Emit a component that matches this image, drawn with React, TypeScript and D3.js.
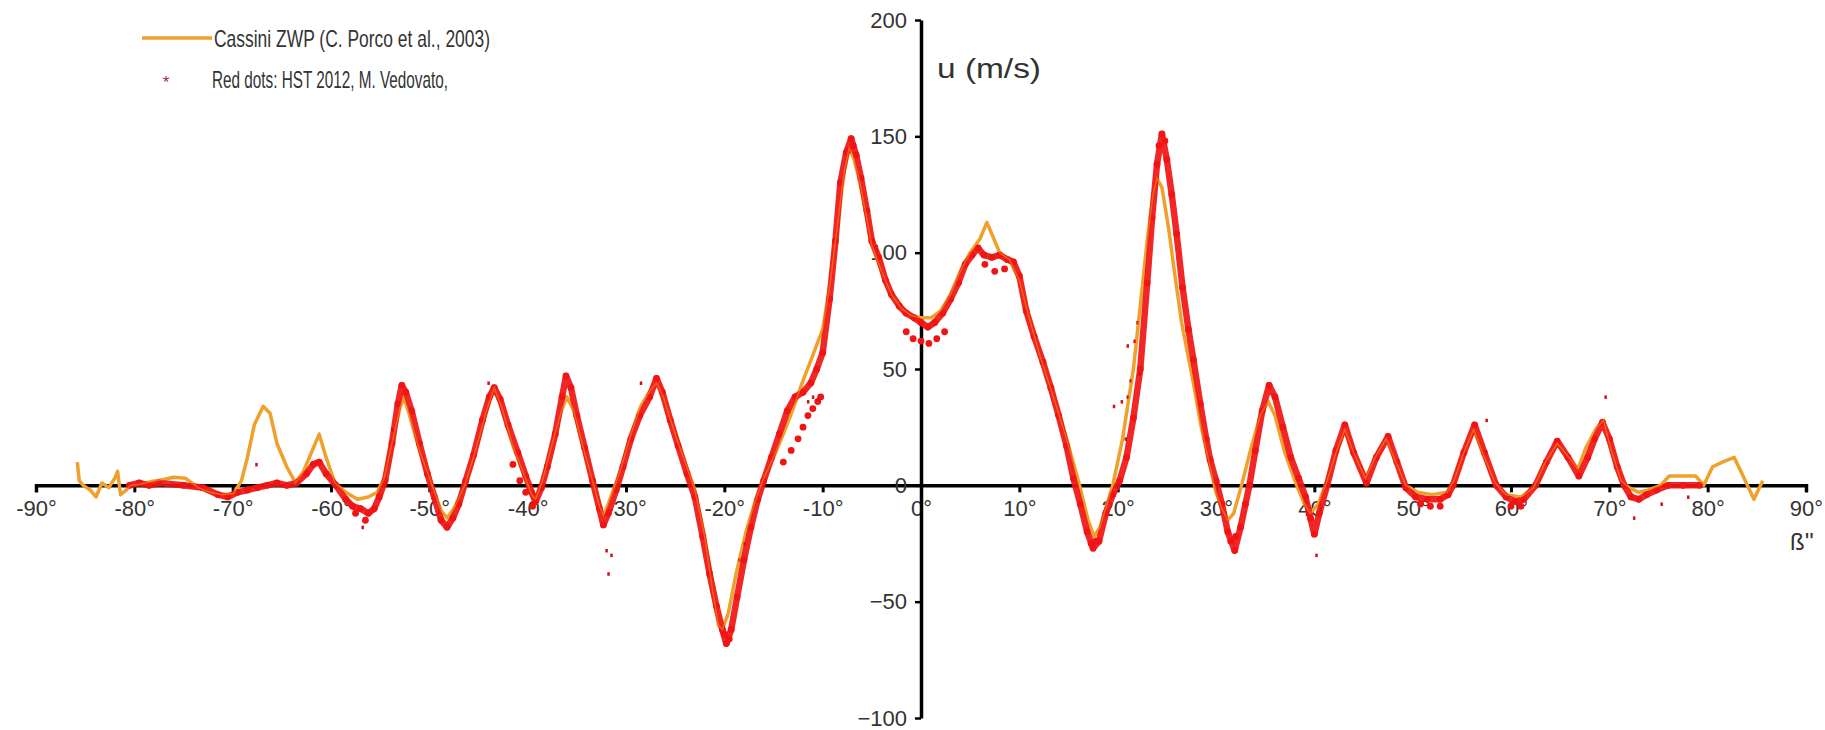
import React, { useRef, useEffect } from "react";
import * as d3 from "d3";

const W = 1825;
const H = 730;

// Cassini zonal wind profile (latitude °, u m/s)
const CASSINI_LAT = [
  -85.8, -85.6, -85.2, -84.5, -83.9, -83.3, -82.6, -82.0, -81.7, -81.4, -80.8, -80.4, -79.5, -78.4, -77.0,
  -76.0, -74.8, -73.5, -72.3, -71.1, -69.9, -69.1, -68.5, -67.8, -66.9, -66.2, -65.5, -64.5, -63.6, -62.8,
  -62.0, -61.2, -60.5, -59.6, -58.5, -57.3, -56.2, -55.3, -54.6, -53.8, -53.0, -52.6, -52.0, -51.0, -49.8,
  -48.8, -48.2, -47.5, -46.4, -45.3, -44.2, -43.4, -42.6, -41.5, -40.4, -39.6, -39.2, -38.5, -37.5, -36.5,
  -36.0, -35.3, -34.4, -33.4, -32.7, -32.3, -31.8, -30.6, -29.5, -28.5, -27.5, -26.9, -26.2, -25.0, -24.0,
  -23.0, -22.0, -21.2, -20.6, -20.2, -19.6, -18.8, -17.8, -16.8, -16.0, -15.0, -14.0, -13.0, -12.0, -11.0,
  -10.0, -9.2, -8.5, -7.8, -7.3, -6.8, -6.2, -5.0, -4.0, -3.0, -2.0, -1.0, 0, 1.0, 2.0,
  3.0, 4.0, 5.0, 6.0, 6.7, 7.2, 8.0, 9.0, 10.0, 11.0, 12.0, 13.0, 14.0, 15.0, 16.0,
  17.0, 17.6, 18.2, 19.0, 19.5, 20.5, 21.6, 22.5, 23.0, 23.6, 24.0, 24.5, 25.2, 25.7, 26.5,
  27.7, 28.5, 29.4, 30.0, 30.6, 31.2, 31.8, 32.6, 33.5, 34.5, 35.3, 36.0, 37.0, 38.2, 39.0,
  39.6, 40.4, 41.3, 42.2, 43.1, 44.0, 45.2, 46.2, 47.3, 48.3, 49.3, 50.5, 52.0, 53.5, 54.2,
  55.2, 56.2, 57.2, 58.4, 59.5, 61.0, 62.3, 63.5, 64.7, 65.7, 66.8, 67.6, 68.6, 69.4, 70.2,
  71.2, 72.0, 73.0, 74.0, 75.2, 76.1, 77.5, 78.8, 79.6, 80.5, 81.5, 82.7, 83.6, 84.7, 85.6,
];
const CASSINI_U = [
  10, 2, 0, -2, -5, 1, -1, 3, 6, -4, -2, 0, 0.5, 1.5, 2.5,
  3.5, 3, -1, -3, -4, -3.5, 2, 12, 26, 34, 31, 18, 8, 1, 6,
  14, 22, 12, 1, -3, -6, -5, -3, 3, 18, 33, 38, 30, 15, 1,
  -11, -14, -10, 0, 15, 32, 42, 33, 17, 5, -4, -6, 2, 18, 33,
  38, 32, 17, 2, -9, -13, -8, 6, 22, 34, 41, 44, 38, 22, 10,
  -2, -22, -45, -60, -62, -55, -38, -20, -6, 3, 12, 22, 33, 45, 56,
  67, 88, 112, 135, 145, 140, 130, 103, 92, 82, 76, 73, 72, 72, 75,
  82, 92, 100, 106, 113, 108, 100, 97, 88, 72, 57, 44, 31, 17, 2,
  -15, -22, -18, -7, 0, 20, 50, 85, 105, 125, 132, 128, 110, 94, 70,
  44, 25, 8, -3, -10, -15, -12, 0, 15, 30, 36, 30, 14, 0, -8,
  -12, -8, 2, 14, 24, 14, 3, 12, 20, 10, 0, -3, -4, -3, 2,
  14, 24, 13, 1, -4, -5, -1, 10, 18, 13, 7, 16, 24, 28, 15,
  2, -1, -3, -2, 0, 4, 4, 4, 0, 8, 10, 12, 4, -6, 2,
];

// HST 2012 red dots, main band
const HST_LAT = [
  -80.5, -79.5, -78.5, -77.5, -75.0, -73.0, -71.5, -70.5, -69.5, -68.5, -67.5, -66.5, -65.5, -64.5, -63.5,
  -62.5, -61.8, -61.2, -60.5, -59.5, -58.5, -57.8, -57.0, -56.2, -55.6, -55.1, -54.5, -53.8, -53.2, -52.8,
  -52.4, -51.8, -51.0, -50.2, -49.5, -48.8, -48.2, -47.6, -47.0, -46.3, -45.5, -44.6, -43.9, -43.4, -42.8,
  -42.0, -41.0, -40.2, -39.6, -39.2, -38.6, -38.0, -37.2, -36.5, -36.1, -35.6, -35.0, -34.2, -33.4, -32.7,
  -32.3, -31.8, -31.0, -30.3, -29.5, -28.6, -27.6, -26.9, -26.3, -25.5, -24.7, -23.8, -23.0, -22.2, -21.5,
  -20.8, -20.2, -19.8, -19.3, -18.7, -18.0, -17.3, -16.6, -16.0, -15.2, -14.4, -13.6, -12.8, -12.0, -11.2,
  -10.6, -10.0, -9.3, -8.7, -8.2, -7.6, -7.1, -6.6, -6.1, -5.5, -5.0, -4.3, -3.6, -3.0, -2.2,
  -1.5, -0.7, 0, 0.7, 1.4, 2.2, 3.0, 3.8, 4.5, 5.2, 5.8, 6.4, 7.2, 8.0, 8.8,
  9.4, 10.0, 10.7, 11.5, 12.4, 13.2, 14.0, 14.8, 15.5, 16.2, 16.9, 17.5, 18.1, 18.8, 19.5,
  20.2, 20.9, 21.6, 22.3, 23.0, 23.5, 24.0, 24.5, 25.0, 25.5, 26.0, 26.6, 27.2, 27.7, 28.4,
  29.0, 29.4, 30.0, 30.6, 31.2, 31.9, 32.5, 33.0, 33.4, 34.0, 34.7, 35.4, 36.0, 36.8, 37.6,
  38.4, 39.1, 39.6, 40.0, 40.5, 41.3, 42.2, 43.1, 44.0, 45.3, 46.3, 47.5, 48.4, 49.3, 50.3,
  51.5, 52.8, 53.6, 54.1, 55.2, 56.3, 57.3, 58.5, 59.5, 60.5, 61.3, 62.5, 63.6, 64.7, 65.8,
  66.9, 67.8, 68.5, 69.3, 70.0, 70.8, 71.5, 72.2, 73.0, 73.8, 74.8, 76.0, 77.5, 79.2,
];
const HST_U = [
  0, 1, 0, 1, 0, -1, -4, -5, -3, -2, -1, 0, 1, 0, 1,
  5, 9, 10, 5, 0, -6, -9, -10, -12, -10, -5, 2, 18, 35, 43,
  40, 32, 18, 5, -5, -15, -18, -14, -8, 2, 13, 28, 38, 42, 37,
  26, 14, 4, -3, -7, -1, 8, 22, 38, 47, 42, 30, 16, 2, -10,
  -17, -12, -2, 8, 20, 30, 38, 46, 40, 28, 17, 5, -5, -22, -38,
  -52, -62, -68, -62, -48, -32, -18, -6, 2, 12, 22, 32, 38, 40, 44,
  50, 57, 80, 105, 130, 143, 149, 142, 132, 118, 105, 98, 88, 82, 77,
  74, 72, 70, 68, 70, 74, 80, 87, 95, 99, 102, 99, 98, 99, 97,
  96, 90, 75, 64, 53, 42, 30, 17, 3, -8, -20, -27, -24, -12, -4,
  2, 12, 29, 50, 87, 115, 138, 151, 140, 125, 108, 85, 67, 54, 35,
  20, 11, 2, -8, -20, -28, -18, -8, 0, 15, 32, 43, 38, 25, 12,
  3, -5, -14, -21, -12, 0, 15, 26, 14, 1, 12, 21, 10, -1, -5,
  -6, -6, -4, 0, 14, 26, 14, 0, -5, -7, -6, 0, 10, 19, 12,
  4, 12, 20, 27, 20, 8, 0, -5, -6, -4, -2, 0, 0, 0,
];

// HST secondary strand / spread of the band
const HST_ALT_LAT = [
  -1.5, -0.8, 0, 0.8, 1.6, 2.4, -41.5, -40.8, -40.2, -39.5, -14.0, -13.2, -12.5, -12.0, -11.5,
  -11.0, -10.5, -10.2, 6.5, 7.5, 8.5, 50.8, 51.8, 52.8, 60.0, 61.0, -57.5, -56.5, 31.5, 32.0,
  -7.4, -6.9, 24.2, 24.8, -20.0, -19.5, 17.3, 17.8,
];
const HST_ALT_U = [
  66, 63, 62, 61, 63, 66, 9, 2, -3, -9, 10, 15, 20, 25, 30,
  33, 36, 38, 95, 92, 93, -8, -9, -9, -9, -9, -12, -15, -24, -22,
  144, 146, 146, 148, -64, -66, -25, -24,
];

// isolated red dots
const OUT_LAT = [
  -67.6, -56.8, -53.8, -31.8, -32.0, -31.5, -28.5, -18.5, -18.0, -11.5, -11.0, -10.5, 19.6, 20.4, 21.0,
  21.3, 20.8, 21.7, 21.0, 69.6, 72.5, 75.3, 78.0, -44.0, 57.5, 22.0, 22.2, 40.2,
];
const OUT_U = [
  9, -18, 24, -38, -28, -30, 44, -32, -25, 36, 38, 37, 34, 36, 60,
  45, 20, 62, 38, 38, -14, -8, -5, 44, 28, 70, 48, -30,
];

const X_TICKS = [-90, -80, -70, -60, -50, -40, -30, -20, -10, 0, 10, 20, 30, 40, 50, 60, 70, 80, 90];
const Y_TICKS = [-100, -50, 0, 50, 100, 150, 200];

const ORANGE = "#EFA12C";
const RED = "#F01414";
const FONT = "'Liberation Sans', Arial, sans-serif";

export default function App() {
  const svgRef = useRef<SVGSVGElement | null>(null);

  useEffect(() => {
    const svg = d3.select(svgRef.current);
    svg.selectAll("*").remove();

    const x = d3.scaleLinear().domain([-90, 90]).range([36, 1806]);
    const y = d3.scaleLinear().domain([-100, 200]).range([718, 20]);

    const cassini = CASSINI_LAT.map((l, i) => [l, CASSINI_U[i]] as [number, number]);
    const hst = HST_LAT.map((l, i) => [l, HST_U[i]] as [number, number]);
    const hstAlt = HST_ALT_LAT.map((l, i) => [l, HST_ALT_U[i]] as [number, number]);
    const outl = OUT_LAT.map((l, i) => [l, OUT_U[i]] as [number, number]);

    const line = d3
      .line<[number, number]>()
      .x((d) => x(d[0]))
      .y((d) => y(d[1]));

    // ── Axes ────────────────────────────────────────────────
    const xAxis = svg
      .append("g")
      .attr("transform", `translate(0,${y(0)})`)
      .call(d3.axisBottom(x).tickValues(X_TICKS).tickSize(7).tickFormat((d) => `${d}°`));
    xAxis.select(".domain").attr("stroke", "#000").attr("stroke-width", 3.5);
    xAxis.selectAll(".tick line").attr("stroke", "#000").attr("stroke-width", 3);
    xAxis
      .selectAll(".tick text")
      .attr("font-family", FONT)
      .attr("font-size", 22)
      .attr("fill", "#333")
      .attr("dy", "0.95em");

    const yAxis = svg
      .append("g")
      .attr("transform", `translate(${x(0)},0)`)
      .call(d3.axisLeft(y).tickValues(Y_TICKS).tickSize(6).tickSizeOuter(0));
    yAxis.select(".domain").attr("stroke", "#000").attr("stroke-width", 3.5);
    yAxis.selectAll(".tick line").attr("stroke", "#000").attr("stroke-width", 2.5);
    yAxis
      .selectAll(".tick text")
      .attr("font-family", FONT)
      .attr("font-size", 22)
      .attr("fill", "#333")
      .attr("x", -14);

    // ── Series ──────────────────────────────────────────────
    svg
      .append("path")
      .datum(cassini)
      .attr("d", line)
      .attr("fill", "none")
      .attr("stroke", ORANGE)
      .attr("stroke-width", 3.5)
      .attr("stroke-linejoin", "round");

    svg
      .append("path")
      .datum(hst)
      .attr("d", line)
      .attr("fill", "none")
      .attr("stroke", RED)
      .attr("stroke-width", 6.5)
      .attr("stroke-linejoin", "round")
      .attr("opacity", 0.92);

    svg
      .append("g")
      .selectAll("circle")
      .data(hst.concat(hstAlt))
      .join("circle")
      .attr("cx", (d) => x(d[0]))
      .attr("cy", (d) => y(d[1]))
      .attr("r", 3.4)
      .attr("fill", RED);

    svg
      .append("g")
      .selectAll("rect")
      .data(outl)
      .join("rect")
      .attr("x", (d) => x(d[0]) - 1)
      .attr("y", (d) => y(d[1]) - 1.5)
      .attr("width", 2.5)
      .attr("height", 3.5)
      .attr("fill", "#d0101a");

    // Cassini line shows faintly through the dots
    svg
      .append("path")
      .datum(cassini)
      .attr("d", line)
      .attr("fill", "none")
      .attr("stroke", ORANGE)
      .attr("stroke-width", 1.6)
      .attr("opacity", 0.5);

    // ── Axis titles ─────────────────────────────────────────
    svg
      .append("text")
      .attr("x", 937)
      .attr("y", 78)
      .attr("font-family", FONT)
      .attr("font-size", 28)
      .attr("fill", "#333")
      .attr("textLength", 104)
      .attr("lengthAdjust", "spacingAndGlyphs")
      .text("u (m/s)");

    svg
      .append("text")
      .attr("x", 1790)
      .attr("y", 550)
      .attr("font-family", FONT)
      .attr("font-size", 24)
      .attr("fill", "#333")
      .text("ß''");

    // ── Legend ──────────────────────────────────────────────
    const legend = svg.append("g");
    legend
      .append("line")
      .attr("x1", 142)
      .attr("x2", 212)
      .attr("y1", 38)
      .attr("y2", 38)
      .attr("stroke", ORANGE)
      .attr("stroke-width", 3.5);
    legend
      .append("text")
      .attr("x", 214)
      .attr("y", 47)
      .attr("font-family", FONT)
      .attr("font-size", 24)
      .attr("fill", "#333")
      .attr("textLength", 276)
      .attr("lengthAdjust", "spacingAndGlyphs")
      .text("Cassini ZWP (C. Porco et al., 2003)");
    legend
      .append("text")
      .attr("x", 166)
      .attr("y", 88)
      .attr("text-anchor", "middle")
      .attr("font-family", FONT)
      .attr("font-size", 17)
      .attr("fill", "#a0303a")
      .text("*");
    legend
      .append("text")
      .attr("x", 212)
      .attr("y", 88)
      .attr("font-family", FONT)
      .attr("font-size", 24)
      .attr("fill", "#333")
      .attr("textLength", 236)
      .attr("lengthAdjust", "spacingAndGlyphs")
      .text("Red dots:  HST 2012, M. Vedovato,");
  }, []);

  return (
    <svg
      ref={svgRef}
      width={W}
      height={H}
      style={{ position: "absolute", left: 0, top: 0, background: "#fff" }}
    />
  );
}
